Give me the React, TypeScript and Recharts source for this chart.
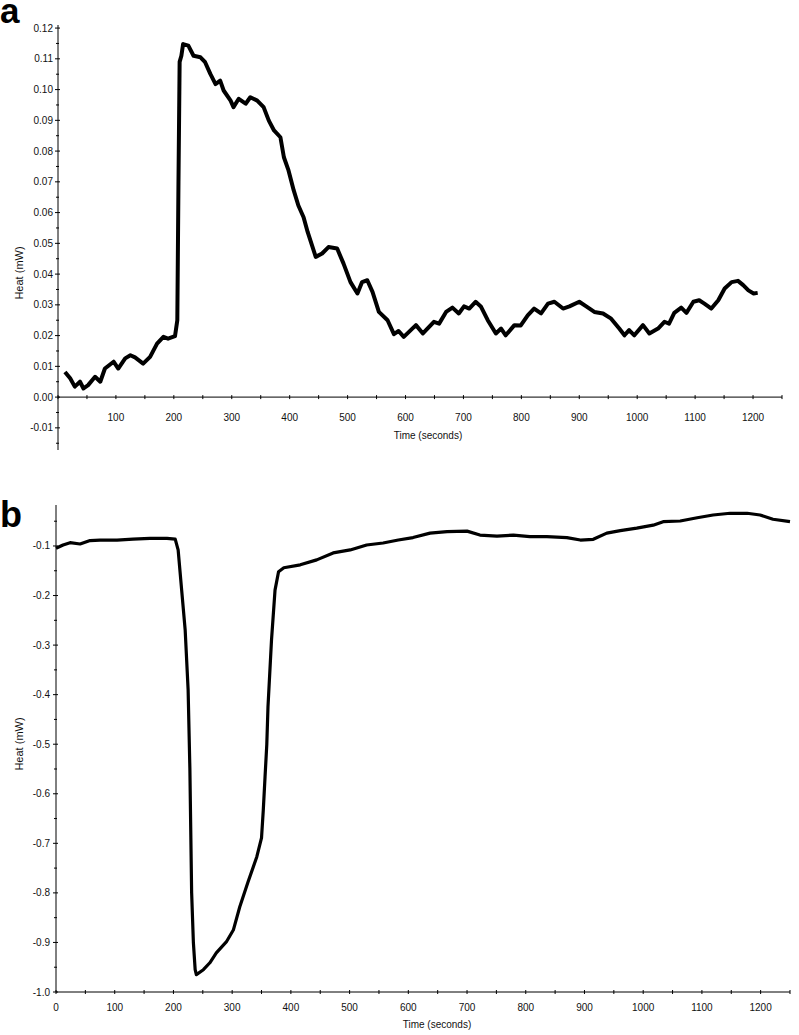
import React from 'react';
import { LineChart, Line, XAxis, YAxis, ReferenceLine } from 'recharts';

// panel a: heat (mW) vs time (s)
const timeA = [
  12, 21, 29, 38, 44, 52, 64, 73, 81, 96, 104, 116, 125, 133, 147, 159, 171, 182, 190, 202,
  206, 208, 210, 213, 216, 225, 234, 246, 254, 263, 272, 280, 286, 298, 303, 312, 324, 332, 344, 355,
  364, 373, 384, 390, 398, 407, 415, 424, 431, 445, 456, 467, 482, 493, 505, 517, 525, 534, 543, 554,
  569, 580, 588, 597, 618, 630, 649, 658, 670, 681, 692, 701, 710, 721, 730, 742, 756, 765, 773, 788,
  799, 811, 822, 834, 846, 857, 872, 883, 900, 912, 926, 941, 955, 969, 978, 986, 995, 1010, 1021, 1036,
  1047, 1055, 1064, 1076, 1085, 1097, 1107, 1116, 1128, 1140, 1151, 1163, 1174, 1183, 1192, 1201, 1208,
];
const heatA = [
  0.0082, 0.0061, 0.0034, 0.005, 0.0028, 0.0039, 0.0066, 0.005, 0.0093, 0.0115, 0.0093, 0.0126, 0.0136, 0.0129, 0.0109, 0.0131, 0.0174, 0.0196, 0.019, 0.0198,
  0.025, 0.07, 0.109, 0.111, 0.1148, 0.1143, 0.111, 0.1105, 0.1089, 0.1051, 0.1018, 0.1029, 0.0997, 0.0964, 0.0943, 0.097, 0.0954, 0.0975, 0.0964, 0.0943,
  0.0899, 0.0867, 0.0845, 0.078, 0.0737, 0.0672, 0.0623, 0.0585, 0.0537, 0.0456, 0.0467, 0.0488, 0.0483, 0.0434, 0.0374, 0.0337, 0.0374, 0.038, 0.0342, 0.0277,
  0.025, 0.0205, 0.0215, 0.0196, 0.0234, 0.0207, 0.0245, 0.0239, 0.0277, 0.0291, 0.0272, 0.0295, 0.0288, 0.031, 0.0295, 0.025, 0.0207, 0.0223, 0.0201, 0.0234,
  0.0233, 0.0266, 0.0288, 0.0272, 0.0304, 0.031, 0.0288, 0.0295, 0.031, 0.0295, 0.0277, 0.0272, 0.0255, 0.0223, 0.0201, 0.0218, 0.0201, 0.0234, 0.0207, 0.0223,
  0.0245, 0.0239, 0.0274, 0.0291, 0.0274, 0.031, 0.0315, 0.0304, 0.0288, 0.0315, 0.0353, 0.0374, 0.0378, 0.0364, 0.0347, 0.0337, 0.0339,
];

// panel b
const timeB = [
  0, 12, 24, 41, 58, 75, 104, 131, 160, 189, 203, 208, 214, 220, 225, 228, 231, 234, 237, 239,
  251, 262, 273, 290, 302, 313, 327, 342, 350, 353, 356, 359, 361, 367, 373, 379, 388, 416, 444, 472,
  501, 529, 557, 583, 608, 637, 666, 700, 722, 751, 779, 807, 836, 870, 893, 915, 938, 961, 989, 1017,
  1034, 1063, 1092, 1119, 1148, 1177, 1199, 1221, 1250,
];
const heatB = [
  -0.1047, -0.098, -0.0933, -0.096, -0.089, -0.088, -0.088, -0.086, -0.0845, -0.0845, -0.086, -0.108, -0.189, -0.27, -0.39, -0.55, -0.8, -0.901, -0.955, -0.965,
  -0.955, -0.941, -0.921, -0.899, -0.875, -0.828, -0.778, -0.727, -0.689, -0.633, -0.566, -0.5, -0.425, -0.29, -0.189, -0.152, -0.144, -0.138, -0.128, -0.114,
  -0.108, -0.098, -0.094, -0.088, -0.083, -0.074, -0.071, -0.07, -0.078, -0.08, -0.078, -0.081, -0.081, -0.083, -0.088, -0.0865, -0.074, -0.069, -0.064, -0.058,
  -0.051, -0.0496, -0.043, -0.0375, -0.034, -0.034, -0.0375, -0.046, -0.051,
];

const xTicks = [0, 50, 100, 150, 200, 250, 300, 350, 400, 450, 500, 550, 600, 650, 700, 750, 800, 850, 900, 950, 1000, 1050, 1100, 1150, 1200, 1250];
const yTicksA = [0.12, 0.115, 0.11, 0.105, 0.1, 0.095, 0.09, 0.085, 0.08, 0.075, 0.07, 0.065, 0.06, 0.055, 0.05, 0.045, 0.04, 0.035, 0.03, 0.025, 0.02, 0.015, 0.01, 0.005, 0, -0.005, -0.01, -0.015];
const yTicksB = [-0.05, -0.1, -0.15, -0.2, -0.25, -0.3, -0.35, -0.4, -0.45, -0.5, -0.55, -0.6, -0.65, -0.7, -0.75, -0.8, -0.85, -0.9, -0.95, -1.0];

const dataA = timeA.map((t, i) => ({ t, heat: heatA[i] }));
const dataB = timeB.map((t, i) => ({ t, heat: heatB[i] }));

const FONT = '"Liberation Sans", Arial, sans-serif';

// panel a geometry (x axis sits on the zero line, not at the bottom)
const A_W = 799, A_H = 470, A_TOP = 25, A_BOTTOM = 450, A_LEFT = 58;
const A_YMIN = -0.0172, A_YMAX = 0.121;
const A_ZERO = A_TOP + ((A_YMAX - 0) / (A_YMAX - A_YMIN)) * (A_BOTTOM - A_TOP);

const B_W = 799, B_H = 545, B_TOP = 15, B_LEFT = 56, B_XH = 43;
const B_YMIN = -1.0, B_YMAX = -0.0173;
const B_BOTTOM = B_H - B_XH;

const isMajor = (v: number, step: number) => Math.abs(Math.round(v / step) * step - v) < 1e-9;

const XTickA = (props: any) => {
  const { x, payload } = props;
  const v = payload.value;
  const show = v % 100 === 0 && v > 0 && v <= 1200;
  return (
    <g>
      <line x1={x} x2={x} y1={A_ZERO - 2} y2={A_ZERO + 2} stroke="#000" />
      {show && (
        <text x={x} y={A_ZERO + 24} textAnchor="middle" fontSize={10} fontFamily={FONT} fill="#111">{v}</text>
      )}
    </g>
  );
};

const YTickA = (props: any) => {
  const { y, payload } = props;
  const v = payload.value;
  const major = isMajor(v, 0.01);
  return (
    <g>
      <line x1={A_LEFT - (major ? 3 : 2)} x2={A_LEFT + (major ? 2 : 1)} y1={y} y2={y} stroke="#000" />
      {major && (
        <text x={A_LEFT - 5} y={y + 3.5} textAnchor="end" fontSize={10} fontFamily={FONT} fill="#111">{v.toFixed(2)}</text>
      )}
    </g>
  );
};

const XTickB = (props: any) => {
  const { x, payload } = props;
  const v = payload.value;
  const show = v % 100 === 0 && v <= 1200;
  return (
    <g>
      <line x1={x} x2={x} y1={B_BOTTOM - 2} y2={B_BOTTOM + 2} stroke="#000" />
      {show && (
        <text x={x} y={B_BOTTOM + 19} textAnchor="middle" fontSize={10} fontFamily={FONT} fill="#111">{v}</text>
      )}
    </g>
  );
};

const YTickB = (props: any) => {
  const { y, payload } = props;
  const v = payload.value;
  const major = isMajor(v, 0.1);
  return (
    <g>
      <line x1={B_LEFT - (major ? 3 : 2)} x2={B_LEFT + (major ? 2 : 1)} y1={y} y2={y} stroke="#000" />
      {major && (
        <text x={B_LEFT - 6} y={y + 3.5} textAnchor="end" fontSize={10} fontFamily={FONT} fill="#111">{v.toFixed(1)}</text>
      )}
    </g>
  );
};

export default function App() {
  return (
    <div style={{ position: 'absolute', left: 0, top: 0, width: 799, height: 1035, background: '#fff' }}>
      <div style={{ position: 'absolute', left: 0, top: 0 }}>
        <LineChart width={A_W} height={A_H} data={dataA} margin={{ top: A_TOP, right: A_W - 782, bottom: 0, left: 0 }}>
          <XAxis
            dataKey="t"
            type="number"
            domain={[0, 1250]}
            ticks={xTicks}
            interval={0}
            height={A_H - A_BOTTOM}
            axisLine={false}
            tickLine={false}
            tick={<XTickA />}
          />
          <YAxis
            type="number"
            domain={[A_YMIN, A_YMAX]}
            ticks={yTicksA}
            interval={0}
            width={A_LEFT}
            allowDataOverflow
            axisLine={{ stroke: '#000' }}
            tickLine={false}
            tick={<YTickA />}
          />
          <ReferenceLine y={0} stroke="#000" />
          <Line type="linear" dataKey="heat" stroke="#000" strokeWidth={4} strokeLinejoin="round" dot={false} isAnimationActive={false} />
        </LineChart>
      </div>
      <div style={{ position: 'absolute', left: 0, top: 490 }}>
        <LineChart width={B_W} height={B_H} data={dataB} margin={{ top: B_TOP, right: B_W - 790, bottom: 0, left: 0 }}>
          <XAxis
            dataKey="t"
            type="number"
            domain={[0, 1250]}
            ticks={xTicks}
            interval={0}
            height={B_XH}
            axisLine={{ stroke: '#000' }}
            tickLine={false}
            tick={<XTickB />}
          />
          <YAxis
            type="number"
            domain={[B_YMIN, B_YMAX]}
            ticks={yTicksB}
            interval={0}
            width={B_LEFT}
            allowDataOverflow
            axisLine={{ stroke: '#000' }}
            tickLine={false}
            tick={<YTickB />}
          />
          <Line type="linear" dataKey="heat" stroke="#000" strokeWidth={3.2} strokeLinejoin="round" dot={false} isAnimationActive={false} />
        </LineChart>
      </div>
      <svg width={799} height={1035} style={{ position: 'absolute', left: 0, top: 0, pointerEvents: 'none' }}>
        <text x={0} y={23} fontSize={35} fontWeight="bold" fontFamily={FONT} fill="#000">a</text>
        <text x={0} y={527} fontSize={36} fontWeight="bold" fontFamily={FONT} fill="#000">b</text>
        <text transform="translate(23,273) rotate(-90)" textAnchor="middle" fontSize={11} fontFamily={FONT} fill="#111">Heat (mW)</text>
        <text transform="translate(23,744) rotate(-90)" textAnchor="middle" fontSize={11} fontFamily={FONT} fill="#111">Heat (mW)</text>
        <text x={428} y={439} textAnchor="middle" fontSize={10} fontFamily={FONT} fill="#111">Time (seconds)</text>
        <text x={437} y={1028} textAnchor="middle" fontSize={10} fontFamily={FONT} fill="#111">Time (seconds)</text>
      </svg>
    </div>
  );
}
